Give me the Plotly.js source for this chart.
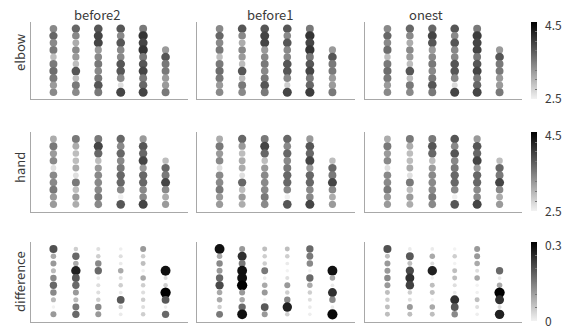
<!DOCTYPE html>
<html>
<head>
<meta charset="utf-8">
<script src="https://cdn.plot.ly/plotly-3.0.1.min.js"></script>
<style>html,body{margin:0;padding:0;background:#fff;}#chart{width:566px;height:328px;}</style>
</head>
<body>
<div id="chart"></div>
<script>
// ---- data ----
const conditions = ['before2', 'before1', 'onest'];
const measures = ['elbow', 'hand', 'difference'];
const columns = [1, 2, 3, 4, 5, 6];
// each column listed top -> bottom; column 6 has only 7 rows
const elbowBefore2 = [
  [3.37, 3.65, 3.37, 3.50, 2.94, 3.50, 3.60, 3.50, 3.23, 3.37],
  [3.65, 3.37, 3.08, 3.37, 3.23, 2.94, 3.79, 2.94, 3.50, 3.37],
  [3.79, 3.93, 3.93, 3.23, 3.37, 3.50, 3.37, 3.50, 3.79, 3.50],
  [3.79, 3.37, 3.79, 3.37, 3.37, 3.79, 3.79, 3.37, 2.66, 3.93],
  [3.50, 4.07, 3.93, 4.07, 3.50, 3.79, 3.93, 3.50, 3.65, 3.93],
  [3.23, 3.79, 3.50, 3.50, 3.23, 3.23, 3.50]
];
const elbowBefore1 = [
  [3.37, 3.65, 3.37, 3.50, 2.94, 3.50, 3.60, 3.50, 3.23, 3.37],
  [3.79, 3.37, 3.08, 3.37, 3.23, 2.94, 3.79, 2.94, 3.50, 3.37],
  [3.79, 3.93, 3.93, 3.23, 3.37, 3.50, 3.37, 3.50, 3.79, 3.50],
  [3.79, 3.37, 3.79, 3.37, 3.37, 3.79, 3.79, 3.37, 2.80, 3.93],
  [3.50, 4.07, 3.93, 4.07, 3.50, 3.79, 3.93, 3.50, 3.65, 4.00],
  [3.23, 3.79, 3.50, 3.50, 3.23, 3.23, 3.50]
];
const elbowOnest = [
  [3.37, 3.65, 3.37, 3.60, 2.94, 3.50, 3.60, 3.50, 3.23, 3.37],
  [3.65, 3.37, 3.08, 3.37, 3.23, 2.94, 3.79, 2.94, 3.50, 3.37],
  [3.65, 3.93, 3.79, 3.23, 3.37, 3.50, 3.37, 3.50, 3.79, 3.50],
  [3.79, 3.37, 3.79, 3.37, 3.37, 3.79, 3.79, 3.37, 2.70, 3.93],
  [3.50, 4.00, 3.93, 3.93, 3.50, 3.79, 3.93, 3.50, 3.65, 3.93],
  [3.23, 3.79, 3.50, 3.50, 3.23, 3.23, 3.50]
];
const handBefore2 = [
  [3.08, 3.50, 3.23, 3.37, 2.66, 3.37, 3.37, 3.50, 3.23, 3.23],
  [3.50, 3.08, 2.94, 2.94, 3.08, 2.66, 3.50, 2.94, 3.23, 3.08],
  [3.50, 3.93, 3.65, 2.94, 3.23, 3.37, 3.37, 3.37, 3.50, 3.37],
  [3.65, 3.37, 3.65, 3.37, 3.50, 3.65, 3.65, 3.37, 2.52, 3.79],
  [3.23, 3.79, 3.65, 3.93, 3.23, 3.65, 3.65, 3.37, 3.37, 3.93],
  [2.94, 3.65, 3.50, 3.93, 3.37, 3.08, 3.23]
];
const handBefore1 = [
  [3.08, 3.50, 3.23, 3.37, 2.66, 3.37, 3.37, 3.50, 3.23, 3.23],
  [3.65, 3.23, 2.94, 3.08, 3.08, 2.66, 3.65, 2.94, 3.23, 3.08],
  [3.50, 3.93, 3.65, 2.94, 3.23, 3.37, 3.37, 3.37, 3.50, 3.37],
  [3.65, 3.37, 3.65, 3.37, 3.50, 3.65, 3.65, 3.37, 2.52, 3.79],
  [3.23, 3.79, 3.65, 3.93, 3.23, 3.65, 3.65, 3.37, 3.37, 3.93],
  [2.94, 3.65, 3.50, 3.93, 3.37, 3.08, 3.23]
];
const handOnest = [
  [3.08, 3.50, 3.23, 3.37, 2.66, 3.37, 3.37, 3.50, 3.23, 3.23],
  [3.50, 3.08, 2.94, 2.94, 3.08, 2.66, 3.50, 2.94, 3.23, 3.08],
  [3.50, 3.79, 3.65, 2.94, 3.23, 3.37, 3.37, 3.37, 3.50, 3.37],
  [3.79, 3.37, 3.79, 3.37, 3.50, 3.65, 3.65, 3.37, 2.52, 3.79],
  [3.23, 3.79, 3.65, 3.93, 3.23, 3.65, 3.65, 3.37, 3.37, 3.93],
  [2.94, 3.65, 3.50, 3.93, 3.37, 3.08, 3.23]
];
const diffBefore2 = [
  [0.20, 0.09, 0.11, 0.07, 0.13, 0.17, 0.13, 0.07, 0.00, 0.11],
  [0.045, 0.17, 0.09, 0.26, 0.19, 0.17, 0.11, 0.07, 0.15, 0.17],
  [0.025, 0.045, 0.13, 0.17, 0.01, 0.025, 0.025, 0.045, 0.13, 0.11],
  [0.005, 0.025, 0.01, 0.09, 0.025, 0.045, 0.01, 0.19, 0.045, 0.01],
  [0.11, 0.045, 0.065, 0.003, 0.09, 0.045, 0.025, 0.045, 0.025, 0.045],
  [0.28, 0.025, 0.045, 0.30, 0.19, 0.005, 0.17]
];
const diffBefore1 = [
  [0.28, 0.09, 0.13, 0.11, 0.17, 0.21, 0.09, 0.09, 0.045, 0.15],
  [0.11, 0.24, 0.15, 0.28, 0.28, 0.30, 0.11, 0.09, 0.17, 0.28],
  [0.065, 0.045, 0.045, 0.15, 0.01, 0.09, 0.11, 0.00, 0.19, 0.11],
  [0.065, 0.045, 0.01, 0.00, 0.025, 0.11, 0.045, 0.13, 0.26, 0.045],
  [0.17, 0.15, 0.13, 0.00, 0.17, 0.09, 0.045, 0.025, 0.01, 0.005],
  [0.28, 0.09, 0.01, 0.24, 0.13, 0.01, 0.29]
];
const diffOnest = [
  [0.20, 0.065, 0.11, 0.11, 0.13, 0.11, 0.065, 0.045, 0.065, 0.065],
  [0.01, 0.19, 0.065, 0.21, 0.24, 0.22, 0.045, 0.025, 0.11, 0.065],
  [0.01, 0.09, 0.025, 0.26, 0.003, 0.065, 0.065, 0.00, 0.09, 0.065],
  [0.00, 0.045, 0.00, 0.065, 0.065, 0.025, 0.01, 0.24, 0.19, 0.13],
  [0.11, 0.11, 0.09, 0.025, 0.09, 0.00, 0.003, 0.065, 0.025, 0.005],
  [0.17, 0.01, 0.09, 0.30, 0.24, 0.025, 0.26]
];
const gridValues = [
  [elbowBefore2, elbowBefore1, elbowOnest],
  [handBefore2, handBefore1, handOnest],
  [diffBefore2, diffBefore1, diffOnest]
];
const scaleMin = [2.5, 2.5, 0];
const scaleMax = [4.5, 4.5, 0.3];
const scaleTickStep = [0.25, 0.25, 0.05];
const scaleMinLabel = ['2.5', '2.5', '0'];
const scaleMaxLabel = ['4.5', '4.5', '0.3'];

// ---- layout geometry (pixels) ----
const W = 566, H = 328;
const xDom = [[31, 188], [197, 355], [365, 522]];
const yDom = [[21.7, 99.3], [131.7, 211.6], [241.7, 321.6]];
const labelY = [52, 168, 282];
const titleX = [97, 270, 426];
const fontFam = '"Noto Sans CJK KR", "Open Sans", sans-serif';
const textColor = '#3a3a3a';
const grayScale = [[0, 'rgb(242,242,242)'], [1, 'rgb(0,0,0)']];

const traces = [];
const layout = {
  width: W, height: H,
  margin: {l: 0, r: 0, t: 0, b: 0},
  paper_bgcolor: '#fff', plot_bgcolor: '#fff',
  showlegend: false,
  font: {family: fontFam, size: 12, color: textColor},
  annotations: []
};

let n = 0;
for (let r = 0; r < 3; r++) {
  const caName = r === 0 ? 'coloraxis' : 'coloraxis' + (r + 1);
  const span = scaleMax[r] - scaleMin[r];
  const ticks = [];
  const nSteps = Math.round(span / scaleTickStep[r]);
  for (let i = 1; i < nSteps; i++) ticks.push(scaleMin[r] + i * scaleTickStep[r]);
  const cy = (yDom[r][0] + yDom[r][1]) / 2;
  const barTop = yDom[r][0] + 0.5, barBot = yDom[r][1] - 0.5;
  layout[caName] = {
    cmin: scaleMin[r], cmax: scaleMax[r],
    colorscale: grayScale,
    showscale: true,
    colorbar: {
      x: 531 / W, xanchor: 'left', xpad: 0, ypad: 0,
      y: 1 - cy / H, yanchor: 'middle',
      thickness: 6, thicknessmode: 'pixels',
      len: barBot - barTop, lenmode: 'pixels',
      outlinewidth: 0,
      tickvals: ticks, showticklabels: false,
      ticks: 'inside', ticklen: 2, tickcolor: '#777', tickwidth: 1
    }
  };
  // colour-bar end labels
  [[scaleMaxLabel[r], barTop + 2], [scaleMinLabel[r], barBot - 1]].forEach(([txt, py]) => {
    layout.annotations.push({
      text: txt, xref: 'paper', yref: 'paper',
      x: 543 / W, y: 1 - py / H, xanchor: 'left', yanchor: 'middle',
      showarrow: false,
      font: {family: fontFam, size: 12, color: textColor}
    });
  });
  for (let c = 0; c < 3; c++) {
    n++;
    const sfx = n === 1 ? '' : String(n);
    const xs = [], ys = [], vals = [], sizes = [];
    const panel = gridValues[r][c];
    panel.forEach((colVals, ci) => {
      colVals.forEach((v, ri) => {
        xs.push(columns[ci]);
        ys.push(colVals.length - ri);
        vals.push(v);
        const t = (v - scaleMin[r]) / span;
        sizes.push(r < 2 ? 5.4 + 5.0 * t : 3.5 + 6.8 * t);
      });
    });
    traces.push({
      type: 'scatter', mode: 'markers',
      x: xs, y: ys,
      xaxis: 'x' + sfx, yaxis: 'y' + sfx,
      marker: {color: vals, coloraxis: caName, size: sizes, line: {width: 0}, opacity: 1},
      hoverinfo: 'skip'
    });
    layout['xaxis' + sfx] = {
      domain: [xDom[c][0] / W, xDom[c][1] / W],
      range: [0, 7], showgrid: false, zeroline: false, showticklabels: false, ticks: '',
      showline: true, linecolor: '#a8a8a8', linewidth: 1, fixedrange: true,
      anchor: 'y' + sfx
    };
    layout['yaxis' + sfx] = {
      domain: [1 - yDom[r][1] / H, 1 - yDom[r][0] / H],
      range: [0, 11], showgrid: false, zeroline: false, showticklabels: false, ticks: '',
      showline: true, linecolor: '#a8a8a8', linewidth: 1, fixedrange: true,
      anchor: 'x' + sfx
    };
  }
  layout.annotations.push({
    text: measures[r], xref: 'paper', yref: 'paper',
    x: 19 / W, y: 1 - labelY[r] / H, xanchor: 'center', yanchor: 'middle',
    textangle: -90, showarrow: false,
    font: {family: fontFam, size: 13, color: textColor}
  });
}
conditions.forEach((name, c) => {
  layout.annotations.push({
    text: name, xref: 'paper', yref: 'paper',
    x: titleX[c] / W, y: 1 - 14 / H, xanchor: 'center', yanchor: 'middle',
    showarrow: false,
    font: {family: fontFam, size: 13, color: textColor}
  });
});

Plotly.newPlot('chart', traces, layout, {displayModeBar: false, staticPlot: true});
</script>
</body>
</html>
